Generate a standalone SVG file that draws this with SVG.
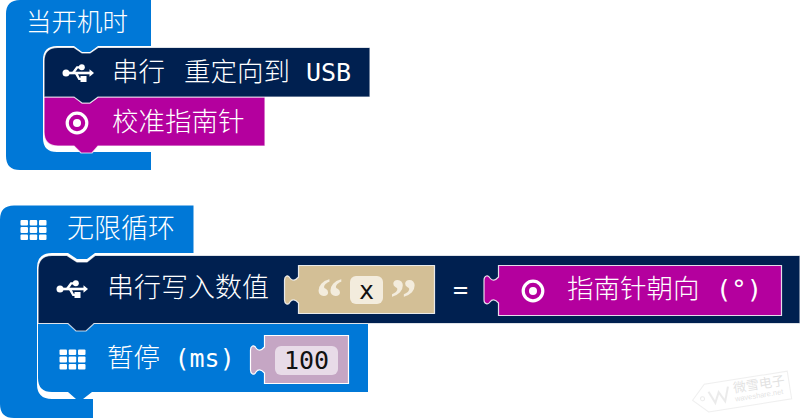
<svg xmlns="http://www.w3.org/2000/svg" width="800" height="418" viewBox="0 0 800 418">
<style>
.t{font-family:"Noto Sans CJK SC","Noto Sans",sans-serif;font-size:26.5px;fill:#fff;font-weight:300}
.m{font-family:"DejaVu Sans Mono","Noto Sans CJK SC",monospace;font-size:25px;fill:#fff}
.d{fill:#111}
.q{font-family:"Liberation Serif",serif;font-size:54px;font-weight:700;fill:#f3ecdd}
.edge{stroke:#fff;stroke-opacity:.75;stroke-width:1.2}
.blue{fill:#0078d7}.navy{fill:#002050}.mag{fill:#b4009e}
</style>
<defs>
<g id="usb" fill="#fff">
<circle cx="-12" cy="0" r="3.500"/>
<path d="M-11 -1.300H12V1.300H-11Z"/>
<path d="M11.500 -3.800L16 0L11.500 3.800Z"/>
<path d="M-6.500 0L-1.500 -6.800H3V-4.500H-0.300L-4 1Z"/>
<circle cx="3.800" cy="-5.700" r="3"/>
<path d="M-3.500 0L0.500 7H4V4.800H1.800L-0.800 -0.500Z"/>
<rect x="2.500" y="3" width="6" height="6"/>
</g>
<g id="grid" fill="#fff">
<rect x="-13" y="-10" width="7.500" height="5.500" rx="1"/><rect x="-3.800" y="-10" width="7.500" height="5.500" rx="1"/><rect x="5.500" y="-10" width="7.500" height="5.500" rx="1"/>
<rect x="-13" y="-3" width="7.500" height="6" rx="1"/><rect x="-3.800" y="-3" width="7.500" height="6" rx="1"/><rect x="5.500" y="-3" width="7.500" height="6" rx="1"/>
<rect x="-13" y="4.500" width="7.500" height="5.500" rx="1"/><rect x="-3.800" y="4.500" width="7.500" height="5.500" rx="1"/><rect x="5.500" y="4.500" width="7.500" height="5.500" rx="1"/>
</g>
<g id="target">
<circle r="9.800" fill="none" stroke="#fff" stroke-width="3.200"/>
<circle r="4" fill="#fff"/>
</g>
</defs>

<g id="on-start">
<path class="blue" d="M20 0H151V46H98L90 52H82L74 46H57Q43 46 43 60V138Q43 152 57 152H151V170H20Q6 170 6 156V14Q6 0 20 0Z"/>
<text class="t" x="26" y="31" style="font-size:25.500px">当开机时</text>
</g>
<g id="calibrate">
<path class="mag edge" d="M44 97H75L82 103H90L98 97H265V146H98L92 153H81L74 146H58Q44 146 44 132Z"/>
<use href="#target" x="77" y="123"/>
<text class="t" x="112" y="131">校准指南针</text>
</g>
<g id="serial-redirect">
<path class="navy edge" d="M58 47.500H74L82 53H90L98 47.500H370V97H98L90 103H82L74 97H44V61Q44 47.500 58 47.500Z"/>
<use href="#usb" x="78" y="73"/>
<text class="t" x="112" y="81">串行</text>
<text class="t" x="184" y="81">重定向到</text>
<text class="m" x="306" y="81">USB</text>
</g>

<g id="forever">
<path class="blue" d="M14 205.500H193.500V253H95L87 259H77L68 253H52Q37 253 37 268V384Q37 399 52 399H93V418H14Q0 418 0 404V219.500Q0 205.500 14 205.500Z"/>
<use href="#grid" x="33.500" y="230"/>
<text class="t" x="67" y="238" style="font-size:27px">无限循环</text>
</g>
<g id="pause">
<path class="blue" d="M38 324H368V392H92L83 399H76L68 392H52Q38 392 38 378Z"/>
<use href="#grid" x="72.500" y="359.500"/>
<text class="t" x="107" y="367">暂停</text>
<text class="m" x="174.500" y="367">(ms)</text>
<g id="num-100">
<path d="M264.500 335.500H348.500V383.500H264.500V373C261 369 258 369 256 372C254 376 250.500 374 250.500 370V350C250.500 346 254 344 256 348C258 351 261 351 264.500 347Z" fill="#c5a6c4" stroke="#fff" stroke-width="1.200"/>
<rect x="275" y="346" width="63" height="29" rx="6" fill="#e8dbe8"/>
<text class="m d" x="284" y="369">100</text>
</g>
</g>
<g id="serial-write">
<path class="navy edge" d="M52 255.500H67L77 262H87L95 255.500H800V323.500H94L86 331H76L68 323.500H38V270Q38 255.500 52 255.500Z"/>
<use href="#usb" x="72" y="289"/>
<text class="t" x="107" y="297" style="font-size:27px">串行写入数值</text>
<g id="string-x">
<path d="M298.500 265.500H434.500V313.500H298.500V303C295 299 292 299 290 302C288 306 284.500 304 284.500 300V280C284.500 276 288 274 290 278C292 281 295 281 298.500 277Z" fill="#d3bf96" stroke="#fff" stroke-opacity=".85" stroke-width="1.200"/>
<text class="q" x="316" y="316">“</text>
<rect x="350" y="276" width="33" height="28" rx="6" fill="#f3ecdd"/>
<text class="m d" x="359" y="299">x</text>
<text class="q" x="390" y="316">”</text>
</g>
<text class="m" x="453" y="298">=</text>
<g id="compass-heading">
<path d="M498.500 265.500H781.500V315.500H498.500V303C495 299 492 299 490 302C488 305 484 304 484 300V280C484 276 488 274 490 278C492 281 495 281 498.500 277Z" fill="#b4009e" stroke="#fff" stroke-opacity=".85" stroke-width="1.200"/>
<use href="#target" x="533" y="291"/>
<text class="t" x="567" y="298">指南针朝向</text>
<text class="m" x="716" y="298" style="font-size:25.500px">(°)</text>
</g>
</g>

<g id="watermark" transform="rotate(-9 745 392)" opacity=".28">
<path d="M692 392L706 378H790V406H706Z" fill="#fff" stroke="#c8c8c8" stroke-width="1"/>
<circle cx="702" cy="392" r="2" fill="none" stroke="#bbb"/>
<path d="M709 386L714 398L719 388L724 398L729 384" fill="none" stroke="#bbb" stroke-width="2"/>
<text x="734" y="391" font-family="Noto Sans CJK SC,sans-serif" font-size="13" fill="#999">微雪电子</text>
<text x="734" y="400" font-family="Liberation Sans,sans-serif" font-size="7.500" fill="#999">waveshare.net</text>
</g>
</svg>
